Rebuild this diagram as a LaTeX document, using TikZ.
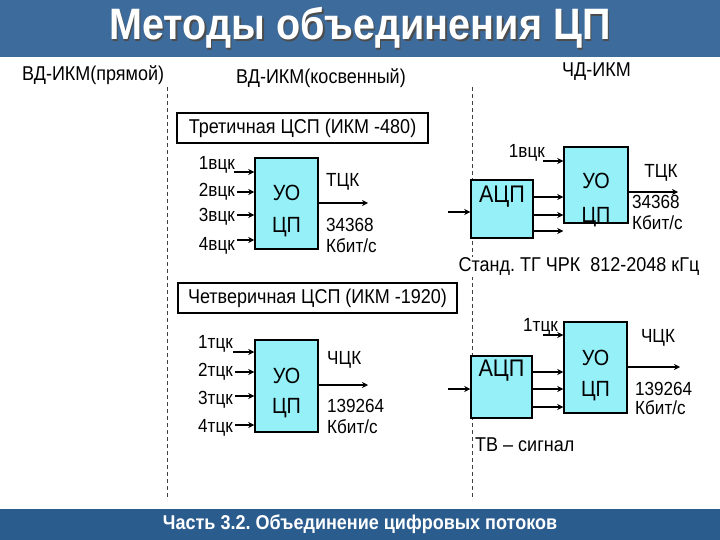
\documentclass[tikz,border=0pt]{standalone}
\usepackage{fontspec}
\setmainfont{Liberation Sans}[FakeStretch=0.9]
\usetikzlibrary{positioning,arrows.meta}
\definecolor{hdrblue}{RGB}{61,107,156}
\definecolor{ftrblue}{RGB}{43,92,142}
\definecolor{boxcyan}{RGB}{150,240,248}
\frenchspacing

\begin{document}
\begin{tikzpicture}[x=1pt, y=-1pt,
  txt/.style={inner sep=0pt, font=\fontsize{19}{21}\selectfont},
  big/.style={inner sep=0pt, font=\fontsize{22}{24}\selectfont},
  hdr/.style={inner sep=0pt, font=\fontsize{20}{22}\selectfont},
  frm/.style={draw, line width=1.8pt, fill=white, inner sep=0pt, minimum height=30pt, font=\fontsize{20}{22}\selectfont},
  blk/.style={draw, line width=1.5pt, fill=boxcyan, inner sep=0pt},
  arr/.style={-{Stealth[length=6pt,width=6pt]}, line width=1.5pt},
  sep/.style={dash pattern=on 4pt off 3pt, line width=0.8pt, black!75}]
  \useasboundingbox (0,0) rectangle (720,540);
  % title and footer bars
  \fill[hdrblue] (0,0) rectangle (720,57);
  \node[text=black!70, font=\fontsize{44}{48}\selectfont\bfseries] (titles) at (361.5,29.5) {Методы объединения ЦП};
  \node[text=white, font=\fontsize{44}{48}\selectfont\bfseries] (title) at (360,28) {Методы объединения ЦП};
  \fill[ftrblue] (0,509) rectangle (720,540);
  \node[text=white, font=\fontsize{20}{22}\selectfont\bfseries] (foot) at (360,524) {Часть 3.2. Объединение цифровых потоков};
  % method columns
  \draw[sep] (167,87) -- (167,500);
  \draw[sep] (472,87) -- (472,500);
  \node[hdr, anchor=west] (m1) at (22,75) {ВД-ИКМ(прямой)};
  \node[hdr, anchor=west] (m2) at (236,78) {ВД-ИКМ(косвенный)};
  \node[hdr, anchor=west] (m3) at (562,72) {ЧД-ИКМ};

  % --- third order
  \node[frm, minimum width=251pt] (tri) at (302.5,128) {Третичная ЦСП (ИКМ -480)};
  \node[blk, minimum width=63pt, minimum height=91pt] (uo1) at (286.5,203.5) {};
  \node[big] (uo1a) at (286.5,193) {УО};
  \node[big] (uo1b) at (286.5,227) {ЦП};
  \foreach \n/\ly/\ay/\ax in {1/165/172/234, 2/192/192/237, 3/217/215/237, 4/246/240/237} {
    \node[txt, anchor=east] (v\n) at (235,\ly) {{\n}вцк};
    \coordinate (va\n) at (\ax,\ay);
    \draw[arr] (va\n) -- (va\n -| uo1.west);
  }
  \coordinate (o1) at (368,203);
  \draw[arr] (o1 -| uo1.east) -- (o1);
  \node[txt, anchor=west] (o1a) at (326,182) {ТЦК};
  \node[txt, anchor=west] (o1b) at (326,225) {34368};
  \node[txt, anchor=west] (o1c) at (326,246) {Кбит/с};

  \node[blk, minimum width=62pt, minimum height=58pt] (adc1) at (502,209) {};
  \node[big, font=\fontsize{24}{26}\selectfont] (adc1t) at (502,197) {АЦП};
  \node[blk, minimum width=64pt, minimum height=76pt] (uo2) at (596,185) {};
  \node[big] (uo2a) at (596,181) {УО};
  \node[big] (uo2b) at (596,217) {ЦП};
  \node[txt, anchor=east] (v5) at (545,153) {1вцк};
  \coordinate (v5a) at (543,161);
  \draw[arr] (v5a) -- (v5a -| uo2.west);
  \coordinate (in1) at (448,212);
  \draw[arr] (in1) -- (in1 -| adc1.west);
  \foreach \ay in {197,215,231}
    \draw[arr] (adc1.east |- 0,\ay) -- (uo2.west |- 0,\ay);
  \coordinate (o2) at (678,192);
  \draw[arr] (o2 -| uo2.east) -- (o2);
  \node[txt] (o2a) at (661,173) {ТЦК};
  \node[txt, anchor=west] (o2b) at (632,202) {34368};
  \node[txt, anchor=west] (o2c) at (632,223) {Кбит/с};
  \node[hdr, fill=white, inner sep=1pt] (std) at (579,267) {Станд. ТГ ЧРК\ \ 812-2048 кГц};

  % --- fourth order
  \node[frm, minimum width=279pt] (qua) at (317.5,298) {Четверичная ЦСП (ИКМ -1920)};
  \node[blk, minimum width=63pt, minimum height=92pt] (uo3) at (286.5,386) {};
  \node[big] (uo3a) at (286.5,376) {УО};
  \node[big] (uo3b) at (286.5,408) {ЦП};
  \foreach \n/\ly/\ay/\ax in {1/344/352/233, 2/372/372/235, 3/400/396/235, 4/428/425/235} {
    \node[txt, anchor=east] (t\n) at (233,\ly) {{\n}тцк};
    \coordinate (ta\n) at (\ax,\ay);
    \draw[arr] (ta\n) -- (ta\n -| uo3.west);
  }
  \coordinate (o3) at (368,385);
  \draw[arr] (o3 -| uo3.east) -- (o3);
  \node[txt, anchor=west] (o3a) at (327,360) {ЧЦК};
  \node[txt, anchor=west] (o3b) at (327,406) {139264};
  \node[txt, anchor=west] (o3c) at (327,427) {Кбит/с};

  \node[blk, minimum width=61pt, minimum height=62pt] (adc2) at (501.5,387) {};
  \node[big, font=\fontsize{24}{26}\selectfont] (adc2t) at (501.5,371) {АЦП};
  \node[blk, minimum width=63pt, minimum height=91pt] (uo4) at (595.5,367.5) {};
  \node[big] (uo4a) at (595.5,358) {УО};
  \node[big] (uo4b) at (595.5,391) {ЦП};
  \node[txt, anchor=east] (t5) at (558,327) {1тцк};
  \coordinate (t5a) at (543,335);
  \draw[arr] (t5a) -- (t5a -| uo4.west);
  \coordinate (in2) at (448,389);
  \draw[arr] (in2) -- (in2 -| adc2.west);
  \foreach \ay in {372,389,407}
    \draw[arr] (adc2.east |- 0,\ay) -- (uo4.west |- 0,\ay);
  \coordinate (o4) at (680,367);
  \draw[arr] (o4 -| uo4.east) -- (o4);
  \node[txt] (o4a) at (658,338) {ЧЦК};
  \node[txt, anchor=west] (o4b) at (635,389) {139264};
  \node[txt, anchor=west] (o4c) at (635,408) {Кбит/с};
  \node[hdr, fill=white, inner sep=1pt, anchor=west] (tv) at (474,445) {ТВ – сигнал};
\end{tikzpicture}
\end{document}
